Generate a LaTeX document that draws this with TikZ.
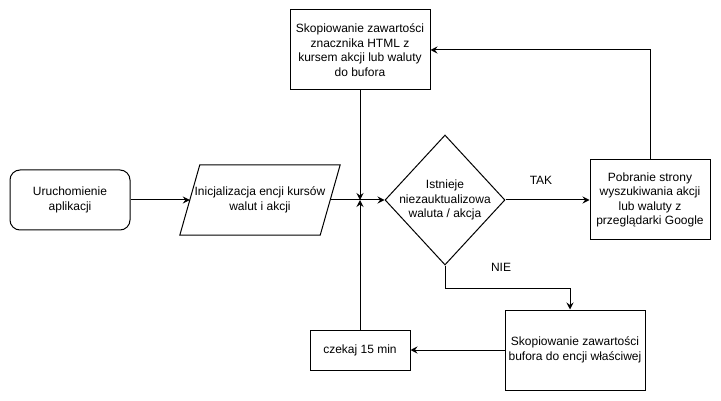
\documentclass[tikz,border=0pt]{standalone}
\usepackage{fontspec}
\setmainfont{Liberation Sans}
\usetikzlibrary{shapes.geometric,arrows.meta,calc}
\begin{document}
\begin{tikzpicture}[x=1pt,y=-1pt,
  every node/.style={font=\fontsize{12}{14.5}\selectfont, align=center, inner sep=0pt},
  box/.style={draw, line width=1pt, fill=white},
  conn/.style={line width=1pt, -{Stealth[length=7pt,width=7pt,inset=2.5pt]}},
  plain/.style={line width=1pt}]
\useasboundingbox (0,0) rectangle (721,401);
% nodes
\node[box, rounded corners=10pt, minimum width=120pt, minimum height=60pt] (start) at (70,200) {Uruchomienie\\aplikacji};
\node[minimum width=140pt, minimum height=70pt] (init) at (260,200) {Inicjalizacja encji kursów\\walut i akcji};
\draw[plain] ($(init.north west)+(10,0)$) -- ($(init.north east)+(10,0)$) -- ($(init.south east)+(-10,0)$) -- ($(init.south west)+(-10,0)$) -- cycle;
\node[box, minimum width=140pt, minimum height=80pt] (copy) at (360,50) {Skopiowanie zawartości\\znacznika HTML z\\kursem akcji lub waluty\\do bufora};
\node[draw, diamond, line width=1pt, minimum width=120pt, minimum height=130pt] (dec) at (445,200) {};
\node (dectext) at (445,200) {Istnieje\\niezauktualizowa\\waluta / akcja};
\node[box, minimum width=120pt, minimum height=80pt] (fetch) at (650,200) {Pobranie strony\\wyszukiwania akcji\\lub waluty z\\przeglądarki Google};
\node[box, minimum width=140pt, minimum height=80pt] (buf) at (575,350) {Skopiowanie zawartości\\bufora do encji właściwej};
\node[box, minimum width=100pt, minimum height=40pt] (wait) at (360,350) {czekaj 15 min};
\coordinate (j) at (360,200);
\coordinate (nbend) at (445,288);
\node (tak) at (541,180) {TAK};
\node (nie) at (501,267) {NIE};
% connectors
\draw[conn] (start.east) -- (init.west);
\draw[conn] (init.east) -- (dec.west);
\draw[conn] (copy.south) -- (j);
\draw[conn] (wait.north) -- (j);
\draw[conn] (dec.east) -- (fetch.west);
\draw[conn] (fetch.north) |- (copy.east);
\draw[conn] (dec.south) -- (nbend) -| ([xshift=-5pt]buf.north);
\draw[conn] (buf.west) -- (wait.east);
\end{tikzpicture}
\end{document}
